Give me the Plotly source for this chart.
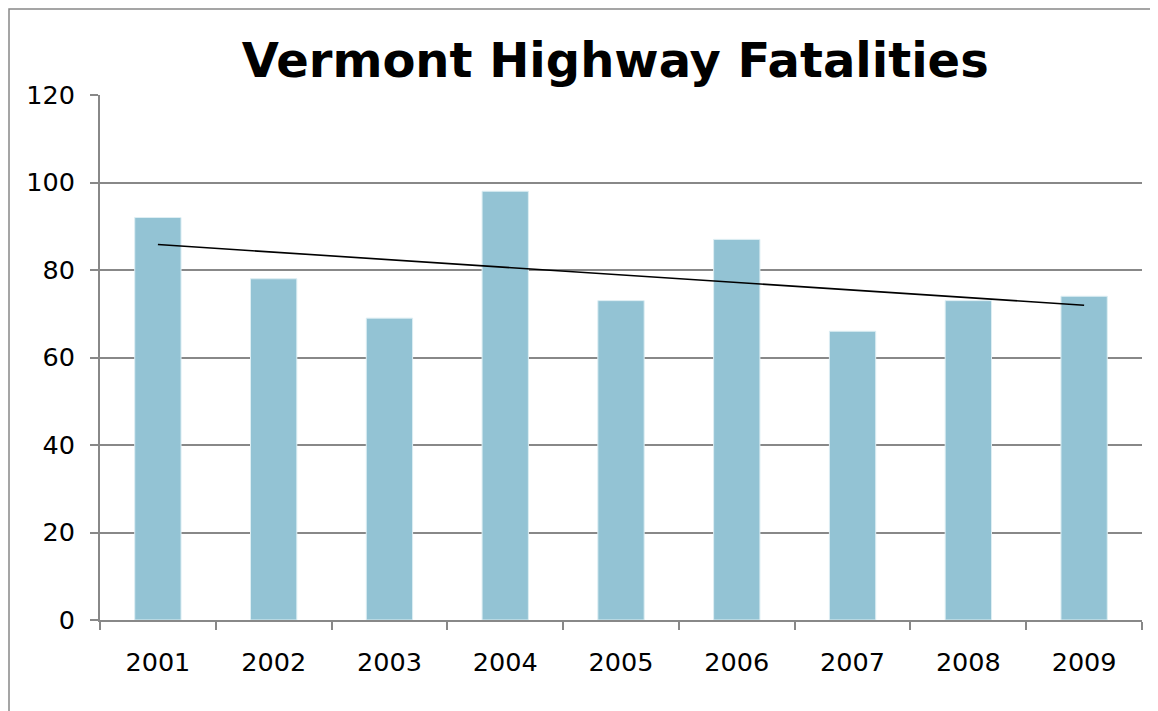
import numpy as np
import plotly.graph_objects as go

years = ["2001", "2002", "2003", "2004", "2005", "2006", "2007", "2008", "2009"]
fatalities = [92, 78, 69, 98, 73, 87, 66, 73, 74]
y_ticks = [0, 20, 40, 60, 80, 100, 120]

# Linear trendline (least squares) from the data
xi = np.arange(1, len(years) + 1)
slope, intercept = np.polyfit(xi, fatalities, 1)
trend = [slope * xi[0] + intercept, slope * xi[-1] + intercept]
trend_x = [years[0], years[-1]]

GRAY = "#888888"
FONT = "DejaVu Sans"

W, H = 1150, 703
L, R, T, B = 92, 16, 87, 91
PW, PH = W - L - R, H - T - B

fig = go.Figure()
fig.add_trace(go.Bar(
    x=years, y=fatalities,
    marker=dict(color="#93C3D4", line=dict(color="#DDEEF3", width=1)),
    showlegend=False,
))
fig.add_trace(go.Scatter(
    x=trend_x, y=trend, mode="lines",
    line=dict(color="black", width=1.6),
    showlegend=False,
))

fig.update_layout(
    width=W, height=H,
    margin=dict(l=L, r=R, t=T, b=B),
    paper_bgcolor="white", plot_bgcolor="white",
    bargap=0.6,
    title=dict(text="<b>Vermont Highway Fatalities</b>",
               font=dict(family=FONT, size=48, color="black"),
               x=0.528, xanchor="center", y=0.926, yanchor="middle"),
    font=dict(family=FONT, size=25.5, color="black"),
    xaxis=dict(
        type="category", showgrid=False,
        showline=True, linecolor=GRAY, linewidth=2,
        ticks="outside", tickson="boundaries", ticklen=8, tickcolor=GRAY, tickwidth=2,
        ticklabelstandoff=18,
        tickfont=dict(family=FONT, size=25.5, color="black"),
    ),
    yaxis=dict(
        range=[0, 120], tickvals=y_ticks,
        showgrid=True, gridcolor=GRAY, gridwidth=1.5,
        showline=True, linecolor=GRAY, linewidth=2,
        ticks="outside", ticklen=8, tickcolor=GRAY, tickwidth=2,
        ticklabelstandoff=10, zeroline=False,
        tickfont=dict(family=FONT, size=25.5, color="black"),
    ),
    shapes=[dict(type="rect", xref="paper", yref="paper",
                 x0=(1 - L) / PW, x1=1.1, y0=-0.3, y1=(PH + T - 1) / PH,
                 line=dict(color=GRAY, width=1.5), fillcolor="rgba(0,0,0,0)",
                 layer="below")],
)

fig.write_html("out.html")
